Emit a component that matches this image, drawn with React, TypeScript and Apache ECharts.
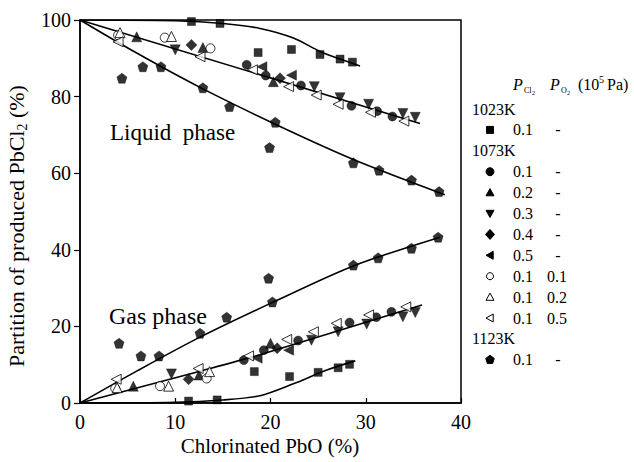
import React, { useEffect, useRef } from "react";
import * as echarts from "echarts";

// Measured partition points [chlorinated PbO %, partition %] — liquid and gas phase together
const k1023_p01 = [
  [11.7, 99.6], [14.7, 99.1], [18.7, 91.5], [22.2, 92.3], [25.2, 91.0], [27.3, 89.8], [28.6, 89.0],
  [11.4, 0.5], [14.4, 0.8], [18.3, 8.2], [22.0, 6.9], [25.0, 8.0], [27.1, 9.2], [28.3, 10.1],
];
const k1073_p01 = [
  [17.5, 88.3], [19.5, 85.5], [23.2, 82.9], [28.5, 77.6], [31.2, 76.2], [32.8, 74.8],
  [17.2, 11.2], [19.3, 13.8], [22.9, 16.3], [28.3, 21.0], [31.1, 22.4], [32.7, 23.8],
];
const k1073_p02 = [
  [5.95, 95.6], [12.9, 92.8], [20.3, 83.9],
  [5.6, 4.4], [12.5, 7.3], [20.0, 15.6],
];
const k1073_p03 = [
  [10.0, 92.2], [24.6, 82.6], [27.3, 79.7], [30.3, 78.0], [33.9, 75.6], [35.2, 74.6],
  [9.6, 7.6], [24.3, 16.4], [27.1, 18.6], [30.1, 20.6], [33.9, 22.5], [35.2, 23.6],
];
const k1073_p04 = [
  [11.7, 93.5], [21.0, 84.8],
  [11.4, 6.2], [20.7, 14.3],
];
const k1073_p05 = [
  [19.1, 87.8], [22.2, 85.6],
  [18.6, 11.7], [21.9, 13.8],
];
const k1073_o01 = [
  [4.0, 96.0], [8.9, 95.4], [13.7, 92.6],
  [3.7, 3.8], [8.4, 4.4], [13.3, 6.4],
];
const k1073_o02 = [
  [4.2, 96.7], [9.6, 95.7],
  [3.9, 4.0], [9.3, 4.4], [13.6, 8.2],
];
const k1073_o05 = [
  [4.0, 94.3], [12.6, 90.4], [18.1, 87.0], [21.9, 82.6], [24.8, 80.4], [27.1, 78.0], [30.5, 75.9], [34.0, 73.6],
  [3.8, 6.2], [12.4, 9.0], [17.7, 12.3], [21.7, 16.6], [24.5, 18.6], [26.9, 20.8], [30.3, 23.0], [34.2, 25.1],
];
const k1123_p01 = [
  [4.4, 84.8], [6.6, 87.8], [8.5, 87.8], [12.9, 82.3], [15.7, 77.4], [19.9, 66.7], [20.5, 73.3],
  [28.7, 62.7], [31.4, 60.8], [34.8, 58.2], [37.7, 55.2],
  [4.1, 15.6], [6.4, 12.3], [8.3, 12.3], [12.6, 18.2], [15.4, 22.4], [19.8, 32.6], [20.2, 26.4],
  [28.7, 36.0], [31.3, 37.9], [34.8, 40.4], [37.6, 43.3],
];

// Fitted trend curves
const fit1023Liquid = [[0, 100], [10, 99.8], [15, 99.1], [18.9, 97.8], [22.4, 95.3], [25.2, 91.8], [27.3, 89.8], [29.4, 88.0]];
const fit1023Gas = [[0, 0], [10, 0.2], [15, 0.8], [18.9, 1.9], [22.4, 5.0], [25.9, 8.6], [28.9, 11.0]];
const fit1073Liquid = [[0, 100], [35.7, 73.0]];
const fit1073Gas = [[0, 0], [12.6, 8.3], [18.9, 12.6], [35.9, 25.6]];
const fit1123Liquid = [[0, 100], [6, 91.3], [12.6, 82.4], [20.5, 72.8], [28.7, 63.6], [38.3, 54.4]];
const fit1123Gas = [[0, 0], [6, 8.4], [12.6, 17.2], [20.5, 26.6], [28.7, 35.8], [37.8, 43.3]];

const xTicks = [0, 10, 20, 30, 40];
const yTicks = [0, 20, 40, 60, 80, 100];

const FONT = "Liberation Serif";
const PENTAGON = "path://M0,-1L0.951,-0.309L0.588,0.809L-0.588,0.809L-0.951,-0.309Z";

type Marker = {
  data: number[][];
  symbol: string;
  size: number;
  rotate?: number;
  hollow?: boolean;
};

const markers: Marker[] = [
  { data: k1023_p01, symbol: "rect", size: 8 },
  { data: k1073_p01, symbol: "circle", size: 9 },
  { data: k1073_p02, symbol: "triangle", size: 10 },
  { data: k1073_p03, symbol: "triangle", size: 10, rotate: 180 },
  { data: k1073_p04, symbol: "diamond", size: 11 },
  { data: k1073_p05, symbol: "triangle", size: 10, rotate: 90 },
  { data: k1073_o01, symbol: "circle", size: 9, hollow: true },
  { data: k1073_o02, symbol: "triangle", size: 10, hollow: true },
  { data: k1073_o05, symbol: "triangle", size: 10, rotate: 90, hollow: true },
  { data: k1123_p01, symbol: PENTAGON, size: 10 },
];

const fits = [fit1023Liquid, fit1023Gas, fit1073Liquid, fit1073Gas, fit1123Liquid, fit1123Gas];

// Legend rows: [kind, label, pCl2, pO2, glyph]
const legendRows: [string, string, string, string, string][] = [
  ["head", "1023K", "", "", ""],
  ["row", "", "0.1", "-", "square"],
  ["head", "1073K", "", "", ""],
  ["row", "", "0.1", "-", "circle"],
  ["row", "", "0.2", "-", "up"],
  ["row", "", "0.3", "-", "down"],
  ["row", "", "0.4", "-", "diamond"],
  ["row", "", "0.5", "-", "left"],
  ["row", "", "0.1", "0.1", "ocircle"],
  ["row", "", "0.1", "0.2", "oup"],
  ["row", "", "0.1", "0.5", "oleft"],
  ["head", "1123K", "", "", ""],
  ["row", "", "0.1", "-", "pentagon"],
];

function glyph(kind: string, cx: number, cy: number) {
  const r = 4;
  const filled = { fill: "#000", stroke: "#000", lineWidth: 1 };
  const open = { fill: "#fff", stroke: "#000", lineWidth: 1 };
  switch (kind) {
    case "square":
      return { type: "rect", shape: { x: cx - 3.5, y: cy - 3.5, width: 7, height: 7 }, style: filled };
    case "circle":
      return { type: "circle", shape: { cx, cy, r: 4 }, style: filled };
    case "ocircle":
      return { type: "circle", shape: { cx, cy, r: 3.5 }, style: open };
    case "up":
      return { type: "polygon", shape: { points: [[cx, cy - r], [cx + r, cy + r * 0.8], [cx - r, cy + r * 0.8]] }, style: filled };
    case "oup":
      return { type: "polygon", shape: { points: [[cx, cy - r], [cx + r, cy + r * 0.8], [cx - r, cy + r * 0.8]] }, style: open };
    case "down":
      return { type: "polygon", shape: { points: [[cx, cy + r], [cx + r, cy - r * 0.8], [cx - r, cy - r * 0.8]] }, style: filled };
    case "left":
      return { type: "polygon", shape: { points: [[cx - r, cy], [cx + r * 0.8, cy - r], [cx + r * 0.8, cy + r]] }, style: filled };
    case "oleft":
      return { type: "polygon", shape: { points: [[cx - r, cy], [cx + r * 0.8, cy - r], [cx + r * 0.8, cy + r]] }, style: open };
    case "diamond":
      return { type: "polygon", shape: { points: [[cx, cy - 5], [cx + 4.5, cy], [cx, cy + 5], [cx - 4.5, cy]] }, style: filled };
    default: {
      const pts: number[][] = [];
      for (let i = 0; i < 5; i++) {
        const a = -Math.PI / 2 + (i * 2 * Math.PI) / 5;
        pts.push([cx + 4.5 * Math.cos(a), cy + 4.5 * Math.sin(a)]);
      }
      return { type: "polygon", shape: { points: pts }, style: filled };
    }
  }
}

// Serif text drawn through a rich token so the font family is applied
function txt(text: string, x: number, y: number, size: number, extra: any = {}) {
  return {
    type: "text",
    x,
    y,
    style: {
      text: `{t|${text}}`,
      align: extra.align || "left",
      textAlign: extra.align || "left",
      verticalAlign: "middle",
      textVerticalAlign: "middle",
      fill: "#000",
      rich: {
        t: {
          fontFamily: FONT,
          fontSize: size,
          fontStyle: extra.italic ? "italic" : "normal",
          fill: "#000",
        },
      },
    },
  };
}

function buildLegend() {
  const els: any[] = [];
  // column header: P_Cl2  P_O2 (10^5 Pa)
  els.push(txt("P", 513, 84, 16, { italic: true }));
  els.push(txt("Cl", 524, 90, 8));
  els.push(txt("2", 532, 93, 6));
  els.push(txt("P", 550, 84, 16, { italic: true }));
  els.push(txt("O", 561, 90, 8));
  els.push(txt("2", 567, 93, 6));
  els.push(txt("(10", 578, 84, 16));
  els.push(txt("5", 599, 79, 10));
  els.push(txt("Pa)", 607, 84, 16));

  const top = 109;
  const step = 20.9;
  legendRows.forEach((row, i) => {
    const y = top + i * step;
    if (row[0] === "head") {
      els.push(txt(row[1], 472, y, 16));
    } else {
      els.push(glyph(row[4], 490, y));
      els.push(txt(row[2], 513, y, 16));
      if (row[3] === "-") els.push(txt("-", 558, y, 16, { align: "center" }));
      else els.push(txt(row[3], 547, y, 16));
    }
  });
  return els;
}

export default function App() {
  const ref = useRef<HTMLDivElement>(null);

  useEffect(() => {
    if (!ref.current) return;
    const chart = echarts.init(ref.current, undefined, { renderer: "svg" });

    const scatterSeries = markers.map((m) => ({
      type: "scatter",
      data: m.data,
      symbol: m.symbol,
      symbolSize: m.size,
      symbolRotate: m.rotate || 0,
      itemStyle: m.hollow
        ? { color: "#fff", borderColor: "#000", borderWidth: 1 }
        : { color: "#000", borderColor: "#000", borderWidth: 0.5 },
      z: 3,
    }));

    const lineSeries = fits.map((d) => ({
      type: "line",
      data: d,
      showSymbol: false,
      symbol: "none",
      smooth: 0.3,
      lineStyle: { color: "#000", width: 1.6 },
      z: 2,
    }));

    const tickLabel = {
      color: "#000",
      fontFamily: FONT,
      fontSize: 20,
      formatter: (v: number) => `{n|${v}}`,
      rich: { n: { fontFamily: FONT, fontSize: 20, color: "#000" } },
    };

    chart.setOption({
      animation: false,
      backgroundColor: "#fff",
      grid: {
        left: 80,
        right: 173,
        top: 20,
        bottom: 59,
        show: true,
        borderColor: "#000",
        borderWidth: 1.5,
        backgroundColor: "transparent",
      },
      xAxis: {
        type: "value",
        min: xTicks[0],
        max: xTicks[xTicks.length - 1],
        interval: 10,
        axisLine: { show: true, lineStyle: { color: "#000", width: 1.5 } },
        axisTick: { show: true, inside: true, length: 5, lineStyle: { color: "#000", width: 1.2 } },
        axisLabel: { ...tickLabel, margin: 9 },
        splitLine: { show: false },
      },
      yAxis: {
        type: "value",
        min: yTicks[0],
        max: yTicks[yTicks.length - 1],
        interval: 20,
        axisLine: { show: true, lineStyle: { color: "#000", width: 1.5 } },
        axisTick: { show: true, inside: false, length: 6, lineStyle: { color: "#000", width: 1.2 } },
        axisLabel: { ...tickLabel, margin: 9 },
        splitLine: { show: false },
      },
      graphic: [
        {
          // vertical axis title, reading upward from its start near the bottom
          type: "text",
          x: 16,
          y: 367,
          rotation: Math.PI / 2,
          style: {
            text: "{a|Partition of produced PbCl}{b|2}{a| (%)}",
            align: "left",
            textAlign: "left",
            verticalAlign: "middle",
            textVerticalAlign: "middle",
            fill: "#000",
            rich: {
              a: { fontFamily: FONT, fontSize: 22, lineHeight: 26, fill: "#000" },
              b: { fontFamily: FONT, fontSize: 14, lineHeight: 15, verticalAlign: "bottom", fill: "#000" },
            },
          },
        },
        txt("Chlorinated PbO (%)", 270, 446, 21, { align: "center" }),
        txt("Liquid\u00a0 phase", 110, 132, 23),
        txt("Gas phase", 109, 316, 24),
        ...buildLegend(),
      ],
      series: [...lineSeries, ...scatterSeries],
    });

    return () => chart.dispose();
  }, []);

  return (
    <div
      ref={ref}
      style={{ position: "absolute", left: 0, top: 0, width: 634, height: 462, background: "#fff" }}
    />
  );
}
